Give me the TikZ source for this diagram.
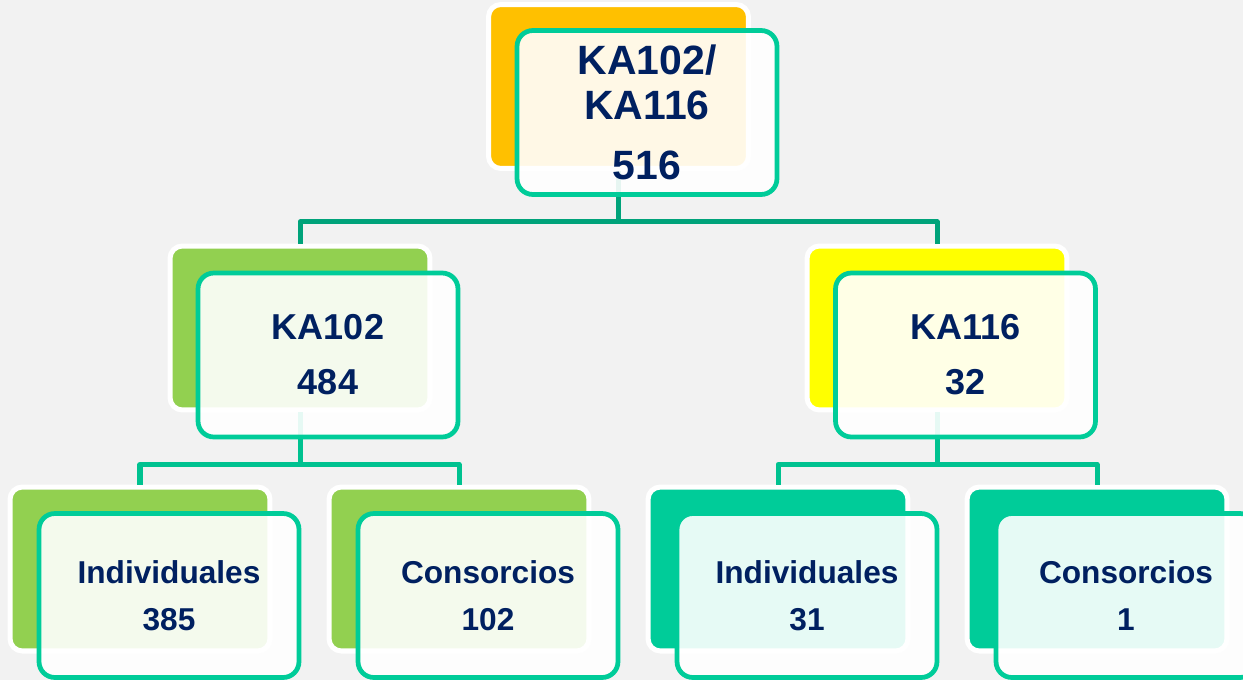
\documentclass[tikz,border=0pt]{standalone}
\usepackage{fontspec}
\setmainfont{Liberation Sans}
\usetikzlibrary{calc}

\definecolor{bgcol}{HTML}{F2F2F2}
\definecolor{orangeb}{HTML}{FFC000}
\definecolor{greenb}{HTML}{92D050}
\definecolor{yellowb}{HTML}{FFFF00}
\definecolor{tealb}{HTML}{00CC99}
\definecolor{trunkcol}{HTML}{00A37A}
\definecolor{branchcol}{HTML}{00C290}
\definecolor{navy}{HTML}{002060}

\tikzset{
  backbox/.style={draw=white, fill=#1, line width=2.85pt, rounded corners=7pt,
    minimum width=5.2cm, minimum height=3.28cm, inner sep=0pt},
  frontbox/.style={draw=tealb, line width=2.7pt, fill=white, fill opacity=0.9,
    text opacity=1, rounded corners=9pt, minimum width=5.2cm, minimum height=3.28cm,
    inner sep=0pt, align=center, text=navy},
  trunk/.style={draw=trunkcol, line width=2.85pt, line join=round},
  branch/.style={draw=branchcol, line width=2.85pt, line join=round},
  bigtext/.style={font=\fontsize{23.3}{25.6}\selectfont\bfseries},
  midtext/.style={font=\fontsize{20.5}{31.3}\selectfont\bfseries},
  smalltext/.style={font=\fontsize{18}{26.7}\selectfont\bfseries}
}

\begin{document}
\begin{tikzpicture}[x=0.02cm, y=-0.02cm]
    \useasboundingbox (0,0) rectangle (1243,680);
    \fill[bgcol] (0,0) rectangle (1243,680);
    \clip (0,0) rectangle (1243,680);

    % back boxes
    \node[backbox=orangeb] (topb) at (618.5,86.5) {};
    \node[backbox=greenb] (ka102b) at (300,328) {};
    \node[backbox=yellowb] (ka116b) at (937,328) {};
    \node[backbox=greenb] (ind1b) at (140,569) {};
    \node[backbox=greenb] (cons1b) at (459,569) {};
    \node[backbox=tealb] (ind2b) at (778,569) {};
    \node[backbox=tealb] (cons2b) at (1097,569) {};

    % connectors
    \draw[trunk] (topb.south) -- ++(0,51) -| (ka102b.north);
    \draw[trunk] (topb.south) -- ++(0,51) -| (ka116b.north);
    \foreach \from/\to in {ka102b/ind1b, ka102b/cons1b, ka116b/ind2b, ka116b/cons2b}
        \draw[branch] (\from.south) -- ++(0,52) -| (\to.north);

    % front boxes
    \node[frontbox, bigtext] (top) at ($(topb)+(28.5,26)$) {KA102/\\KA116\\[8.5pt]516};
    \node[frontbox, midtext] (ka102) at ($(ka102b)+(28,27)$) {KA102\\484};
    \node[frontbox, midtext] (ka116) at ($(ka116b)+(28.5,27)$) {KA116\\32};
    \node[frontbox, smalltext] (ind1) at ($(ind1b)+(29,26.5)$) {Individuales\\385};
    \node[frontbox, smalltext] (cons1) at ($(cons1b)+(29,26.5)$) {Consorcios\\102};
    \node[frontbox, smalltext] (ind2) at ($(ind2b)+(29,26.5)$) {Individuales\\31};
    \node[frontbox, smalltext] (cons2) at ($(cons2b)+(29,26.5)$) {Consorcios\\1};
\end{tikzpicture}
\end{document}
